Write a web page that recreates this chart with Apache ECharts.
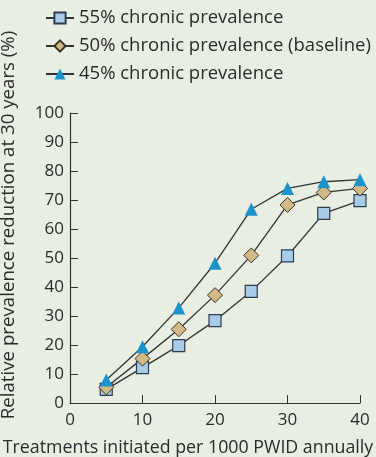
<!DOCTYPE html>
<html><head><meta charset="utf-8">
<script src="https://cdn.jsdelivr.net/npm/echarts@6/dist/echarts.min.js"></script>
<style>html,body{margin:0;padding:0;background:#e9eee3;}#c{width:376px;height:457px;}</style>
</head><body><div id="c"></div>
<script>
const treatments = [5, 10, 15, 20, 25, 30, 35, 40];
const prev55 = [4.7, 12.2, 19.8, 28.4, 38.5, 50.7, 65.4, 69.8];
const prev50 = [5.4, 15.3, 25.4, 37.2, 50.9, 68.3, 72.6, 74.0];
const prev45 = [7.9, 19.4, 32.8, 48.2, 66.8, 74.0, 76.3, 77.0];
const seriesNames = ['55% chronic prevalence', '50% chronic prevalence (baseline)', '45% chronic prevalence'];
const FONT = 'Open Sans';
const chart = echarts.init(document.getElementById('c'));
function mk(name, data, symbol, size, fill, border, bw) {
  return {
    name, type: 'line', data: treatments.map((t, i) => [t, data[i]]),
    symbol, symbolSize: size,
    lineStyle: { color: '#333', width: 1.3 },
    itemStyle: { color: fill, borderColor: border, borderWidth: bw },
    z: 3
  };
}
chart.setOption({
  backgroundColor: '#e9eee3',
  animation: false,
  textStyle: { fontFamily: FONT },
  legend: {
    orient: 'vertical', left: 40, top: 2, itemGap: 6, itemWidth: 28, itemHeight: 14,
    textStyle: { fontFamily: FONT, fontSize: 18.5, color: '#2b2b2b', lineHeight: 22 },
    data: seriesNames
  },
  grid: { left: 70, right: 16, top: 113, bottom: 54, containLabel: false, outerBoundsMode: 'none' },
  xAxis: {
    type: 'value', min: 0, max: 40, interval: 10,
    name: 'Treatments initiated per 1000 PWID annually', nameLocation: 'middle', nameGap: 36,
    nameTextStyle: { fontFamily: FONT, fontSize: 17.8, color: '#2b2b2b', padding: [0, 54, 0, 0] },
    axisLine: { lineStyle: { color: '#333', width: 1.2 } },
    axisTick: { inside: true, length: 8, lineStyle: { color: '#333' } },
    axisLabel: { fontFamily: FONT, fontSize: 17, color: '#2b2b2b', margin: 9 },
    splitLine: { show: false }
  },
  yAxis: {
    type: 'value', min: 0, max: 100, interval: 10,
    name: 'Relative prevalence reduction at 30 years (%)', nameLocation: 'middle', nameGap: 52,
    nameTextStyle: { fontFamily: FONT, fontSize: 18.7, color: '#2b2b2b', padding: [0, 0, 0, 66] },
    axisLine: { show: true, lineStyle: { color: '#333', width: 1.2 } },
    axisTick: { show: true, inside: true, length: 8, lineStyle: { color: '#333' } },
    axisLabel: { fontFamily: FONT, fontSize: 17, color: '#2b2b2b', margin: 6 },
    splitLine: { show: false }
  },
  series: [
    mk(seriesNames[0], prev55, 'rect', 12, '#a8cbe8', '#2e3d4c', 1.2),
    mk(seriesNames[1], prev50, 'diamond', 15, '#d3b985', '#3a3528', 1),
    mk(seriesNames[2], prev45, 'triangle', 13, '#1b93cb', '#1b93cb', 0)
  ]
});
</script></body></html>
